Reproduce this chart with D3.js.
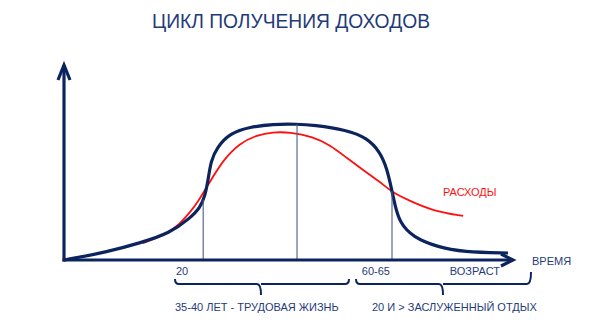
<!DOCTYPE html>
<html>
<head>
<meta charset="utf-8">
<script src="https://cdn.jsdelivr.net/npm/d3@7"></script>
<style>
  html, body { margin: 0; padding: 0; background: #fff; }
  svg { display: block; }
  text { font-family: "Liberation Sans", Arial, sans-serif; fill: #1f3b7a; }
</style>
</head>
<body>
<svg id="chart" width="591" height="330"></svg>
<script>
// Income curve (time, level)
const incomeT = [0, 9.6, 16.9, 23.6, 28.1, 30.3, 31.4, 32.1, 32.7, 34.1, 37.0, 41.4, 46.5, 51.9, 55.5, 63.0, 67.5, 70.4, 71.9, 73.1, 73.7, 74.8, 77.7, 83.1, 88.9, 98.9];
const incomeV = [0, 4.1, 8.7, 13.8, 21.5, 26.7, 32.8, 41.0, 50.8, 57.9, 65.1, 68.2, 69.7, 69.7, 69.2, 66.7, 62.6, 55.4, 47.2, 34.9, 28.2, 19.0, 11.8, 6.7, 4.1, 3.6];

// Spending curve (time, level)
const spendT = [17.6, 22.5, 25.8, 28.1, 29.8, 31.8, 35.4, 39.2, 43.0, 46.5, 50.3, 55.5, 59.2, 63.0, 66.6, 70.4, 73.3, 76.6, 82.2, 88.9];
const spendV = [8.7, 12.8, 18.5, 24.6, 29.7, 37.4, 51.3, 60.0, 64.1, 65.6, 65.6, 63.1, 59.0, 52.3, 46.2, 40.0, 34.4, 30.8, 25.1, 22.6];

// Vertical markers on the time axis
const markerT = [31.0, 51.9, 73.05];
const markerLabels = ["20", "60-65"];

const title = "ЦИКЛ ПОЛУЧЕНИЯ ДОХОДОВ";
const spendLabel = "РАСХОДЫ";
const axisLabel = "ВРЕМЯ";
const ageLabel = "ВОЗРАСТ";
const braceLabels = ["35-40 ЛЕТ - ТРУДОВАЯ ЖИЗНЬ", "20 И > ЗАСЛУЖЕННЫЙ ОТДЫХ"];

const navy = "#0c245e";
const svg = d3.select("#chart");

const x = d3.scaleLinear().domain([0, 100]).range([64, 513]);
const y = d3.scaleLinear().domain([0, 100]).range([260, 65]);

// Title
svg.append("text")
  .attr("x", 152).attr("y", 28)
  .attr("font-size", 20)
  .attr("textLength", 278)
  .attr("lengthAdjust", "spacingAndGlyphs")
  .text(title);

const line = d3.line().x(d => x(d[0])).y(d => y(d[1])).curve(d3.curveBasis);
const income = incomeT.map((t, i) => [t, incomeV[i]]);
const spend = spendT.map((t, i) => [t, spendV[i]]);

// Spending
svg.append("path")
  .attr("d", line(spend))
  .attr("fill", "none")
  .attr("stroke", "#ff1010")
  .attr("stroke-width", 1.8);

// Income
const incomePath = svg.append("path")
  .attr("d", line(income))
  .attr("fill", "none")
  .attr("stroke", navy)
  .attr("stroke-width", 3.2)
  .attr("stroke-linejoin", "round");

// Find the income curve height at a given x pixel
const pnode = incomePath.node();
const total = pnode.getTotalLength();
function curveYAt(px) {
  let lo = 0, hi = total;
  for (let k = 0; k < 40; k++) {
    const mid = (lo + hi) / 2;
    if (pnode.getPointAtLength(mid).x < px) lo = mid; else hi = mid;
  }
  return pnode.getPointAtLength(lo).y;
}

// Marker lines
svg.selectAll(".marker").data(markerT).enter().append("line")
  .attr("x1", d => x(d)).attr("x2", d => x(d))
  .attr("y1", d => curveYAt(x(d))).attr("y2", y(0))
  .attr("stroke", "#4d5c84")
  .attr("stroke-width", 1.1);

// Axes
svg.append("line")
  .attr("x1", x(0)).attr("x2", x(0)).attr("y1", y(0) + 1.5).attr("y2", y(100))
  .attr("stroke", navy).attr("stroke-width", 3.2);
svg.append("line")
  .attr("x1", x(0) - 1.5).attr("x2", x(100)).attr("y1", y(0)).attr("y2", y(0))
  .attr("stroke", navy).attr("stroke-width", 3.2);

// Arrow heads
svg.append("path")
  .attr("d", `M${x(0) - 6},${y(100) + 15} L${x(0)},${y(100)} L${x(0) + 6},${y(100) + 15}`)
  .attr("fill", "none").attr("stroke", navy).attr("stroke-width", 3.2)
  .attr("stroke-linejoin", "miter");
svg.append("path")
  .attr("d", `M${x(100) - 12},${y(0) - 6} L${x(100)},${y(0)} L${x(100) - 12},${y(0) + 6}`)
  .attr("fill", "none").attr("stroke", navy).attr("stroke-width", 3.2)
  .attr("stroke-linejoin", "miter");

// Axis texts
const small = 11;
svg.append("text").attr("x", x(markerT[0]) - 15).attr("y", 275)
  .attr("text-anchor", "end").attr("font-size", small).text(markerLabels[0]);
svg.append("text").attr("x", x(markerT[2]) - 2).attr("y", 275)
  .attr("text-anchor", "end").attr("font-size", small).text(markerLabels[1]);
svg.append("text").attr("x", 500).attr("y", 275)
  .attr("text-anchor", "end").attr("font-size", small).text(ageLabel);
svg.append("text").attr("x", 532).attr("y", 265)
  .attr("font-size", small).text(axisLabel);
svg.append("text").attr("x", 443).attr("y", 196)
  .attr("font-size", small).style("fill", "#ff1010").text(spendLabel);

// Braces
function brace(x0, x1, xm, yTop, yBar, yTip, yRightTop) {
  const r = 4;
  return `M${x0},${yTop} Q${x0},${yBar} ${x0 + r},${yBar} L${xm - r},${yBar} Q${xm},${yBar} ${xm},${yTip}` +
         ` M${xm},${yBar} Q${xm},${yBar} ${xm + r},${yBar} L${x1 - r},${yBar} Q${x1},${yBar} ${x1},${yRightTop}`;
}
svg.append("path").attr("d", brace(175, 349, 261, 279, 284, 295, 279))
  .attr("fill", "none").attr("stroke", navy).attr("stroke-width", 2);
svg.append("path").attr("d", brace(356, 531, 443, 279, 284, 295, 272))
  .attr("fill", "none").attr("stroke", navy).attr("stroke-width", 2);

svg.append("text").attr("x", 175).attr("y", 311)
  .attr("font-size", small).text(braceLabels[0]);
svg.append("text").attr("x", 372).attr("y", 311)
  .attr("font-size", small).text(braceLabels[1]);
</script>
</body>
</html>
